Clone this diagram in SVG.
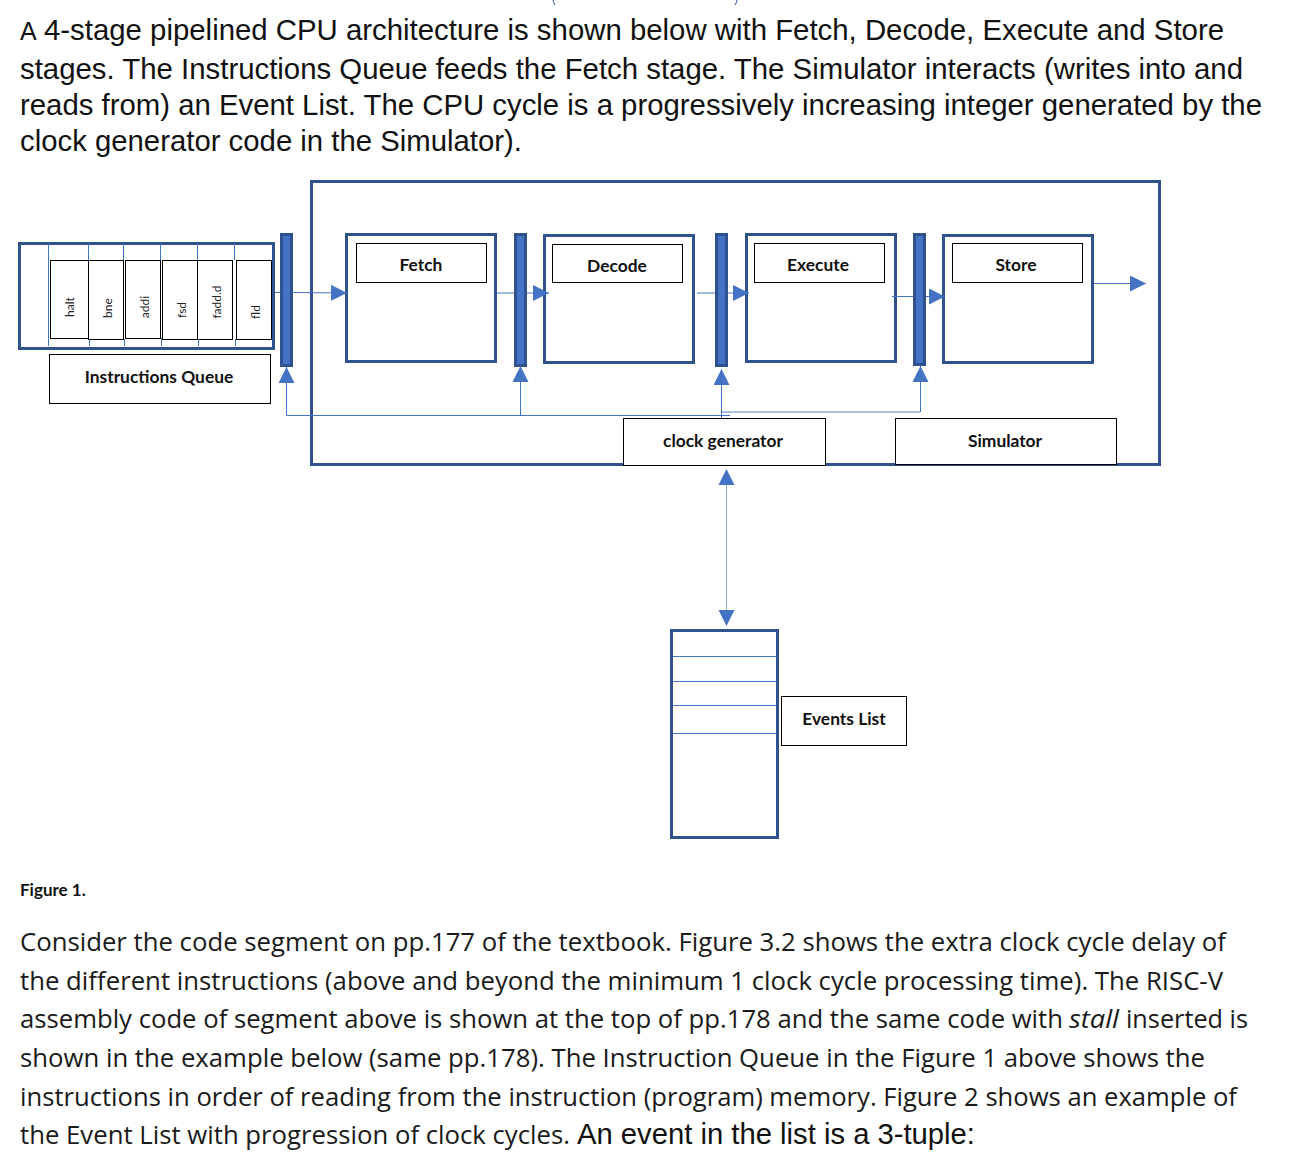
<svg xmlns="http://www.w3.org/2000/svg" width="1304" height="1158" viewBox="0 0 1304 1158">
<style>
.head{font-family:"Liberation Sans",Arial,sans-serif;font-size:29px;fill:#111}
.body{font-family:"Open Sans","Noto Sans",sans-serif;font-size:25.5px;fill:#1a1a1a}
.lab{font-family:Lato,"Noto Sans",sans-serif;font-size:17.4px;font-weight:700;fill:#111;text-anchor:middle}
.cell{font-family:Lato,"Noto Sans",sans-serif;font-size:12px;fill:#222;text-anchor:middle}
.frame{fill:none;stroke:#2f528f;stroke-width:3}
.stage{fill:#fff;stroke:#2f528f;stroke-width:3}
.box{fill:#fff;stroke:#000;stroke-width:1}
.latch{fill:#4472c4;stroke:#2f528f;stroke-width:3}
.wire{fill:none;stroke:#4472c4;stroke-width:1}
.pale{fill:none;stroke:#8faadc;stroke-width:1.5}
.arr{marker-end:url(#ah)}
</style>
<defs>
<marker id="ah" markerUnits="userSpaceOnUse" markerWidth="16" markerHeight="16" refX="16" refY="8" orient="auto-start-reverse" viewBox="0 0 16 16"><path d="M0 0L16 8L0 16Z" fill="#4472c4"/></marker>
</defs>
<path d="M553 0Q553.500 3 555 5M737 0Q736.500 3 735 5" fill="none" stroke="#2f528f" stroke-width="1"/>
<g id="intro">
<text class="head" x="20" y="40" style="font-size:25px">A</text>
<text class="head" x="44" y="40" textLength="1180" lengthAdjust="spacingAndGlyphs">4-stage pipelined CPU architecture is shown below with Fetch, Decode, Execute and Store</text>
<text class="head" x="20" y="79" textLength="1223" lengthAdjust="spacingAndGlyphs">stages. The Instructions Queue feeds the Fetch stage. The Simulator interacts (writes into and</text>
<text class="head" x="20" y="115" textLength="1242" lengthAdjust="spacingAndGlyphs">reads from) an Event List. The CPU cycle is a progressively increasing integer generated by the</text>
<text class="head" x="20" y="151" textLength="502" lengthAdjust="spacingAndGlyphs">clock generator code in the Simulator).</text>
</g>
<rect id="cpu-frame" class="frame" x="311.500" y="181.500" width="848" height="283"/>
<g id="instructions-queue">
<rect class="frame" x="19.500" y="243.500" width="254" height="105"/>
<rect class="box" x="50.500" y="260.500" width="38" height="78"/><text class="cell" transform="translate(74 307) rotate(-90)">halt</text>
<rect class="box" x="88.500" y="260.500" width="35" height="79"/><text class="cell" transform="translate(112 308) rotate(-90)">bne</text>
<rect class="box" x="125.500" y="260.500" width="35" height="78"/><text class="cell" transform="translate(149 307) rotate(-90)">addi</text>
<rect class="box" x="162.500" y="260.500" width="35" height="79"/><text class="cell" transform="translate(186 310) rotate(-90)">fsd</text>
<rect class="box" x="197.500" y="260.500" width="35" height="79"/><text class="cell" transform="translate(221 302) rotate(-90)">fadd.d</text>
<rect class="box" x="236.500" y="260.500" width="35" height="79"/><text class="cell" transform="translate(260 312) rotate(-90)">fld</text>
<path class="wire" d="M48.500 243V346M88.500 243V260M89.500 339V346M123.500 243V260M124.500 339V346M160.500 243V260M161.500 338V346M197.500 243V260M198.500 339V346M234.500 243V260M235.500 339V346"/>
<rect class="box" x="49.500" y="354.500" width="221" height="49"/>
<text class="lab" x="159" y="383">Instructions Queue</text>
</g>
<g id="latches">
<rect class="latch" x="281.500" y="234.500" width="10" height="131"/>
<rect class="latch" x="515.500" y="234.500" width="10" height="131"/>
<rect class="latch" x="716.500" y="234.500" width="10" height="131"/>
<rect class="latch" x="914.500" y="234.500" width="10" height="130"/>
</g>
<g id="fetch"><rect class="stage" x="346.500" y="234.500" width="149" height="127"/><rect class="box" x="356.500" y="243.500" width="130" height="39"/><text class="lab" x="421" y="271">Fetch</text></g>
<g id="decode"><rect class="stage" x="544.500" y="235.500" width="149" height="127"/><rect class="box" x="552.500" y="244.500" width="130" height="38"/><text class="lab" x="617" y="272">Decode</text></g>
<g id="execute"><rect class="stage" x="746.500" y="234.500" width="149" height="127"/><rect class="box" x="754.500" y="243.500" width="130" height="39"/><text class="lab" x="818" y="271">Execute</text></g>
<g id="store"><rect class="stage" x="943.500" y="235.500" width="149" height="127"/><rect class="box" x="952.500" y="243.500" width="130" height="39"/><text class="lab" x="1016" y="271">Store</text></g>
<g id="clock-generator"><rect class="box" x="623.500" y="418.500" width="202" height="47"/><text class="lab" x="723" y="447">clock generator</text></g>
<g id="simulator"><rect class="box" x="895.500" y="418.500" width="221" height="46"/><text class="lab" x="1005" y="447">Simulator</text></g>
<g id="events-list">
<rect class="frame" x="671.500" y="630.500" width="106" height="207"/>
<path class="wire" d="M673 656.500H777M673 681.500H777M673 705.500H777M673 733.500H777"/>
<rect class="box" x="781.500" y="696.500" width="125" height="49"/>
<text class="lab" x="844" y="725">Events List</text>
</g>
<g id="connectors">
<path class="wire" d="M275 292.500H281"/>
<path class="wire arr" d="M292 292.500L347 293"/>
<path class="wire" d="M497 293H514"/>
<path class="wire arr" d="M526 293H549"/>
<path class="wire" d="M697 293H715"/>
<path class="wire arr" d="M727 293H749"/>
<path class="wire" d="M892 296.500H913"/>
<path class="wire arr" d="M926 296.500H945"/>
<path class="wire arr" d="M1094 283.500H1146"/>
<path class="wire arr" d="M286.500 415.500V367"/>
<path class="wire" d="M286.500 415.500H730"/>
<path class="wire arr" d="M520.500 415.500V366"/>
<path class="wire arr" d="M721.500 418V369"/>
<path class="pale" d="M722 412H920"/>
<path class="wire arr" d="M920.500 412V366"/>
<path class="pale" d="M726.500 485V610" style="stroke-width:1"/>
<path d="M726.500 469L734.500 485H718.500Z" fill="#4472c4"/>
<path d="M726.500 626L734.500 610H718.500Z" fill="#4472c4"/>
</g>
<g id="text-below">
<text x="20" y="896" font-family="Lato,'Noto Sans',sans-serif" font-size="17" font-weight="700" fill="#111">Figure 1.</text>
<text class="body" x="20" y="951" textLength="1206" lengthAdjust="spacingAndGlyphs">Consider the code segment on pp.177 of the textbook. Figure 3.2 shows the extra clock cycle delay of</text>
<text class="body" x="20" y="990" textLength="1203" lengthAdjust="spacingAndGlyphs">the different instructions (above and beyond the minimum 1 clock cycle processing time). The RISC-V</text>
<text class="body" x="20" y="1028" textLength="1043" lengthAdjust="spacingAndGlyphs">assembly code of segment above is shown at the top of pp.178 and the same code with</text>
<text class="body" x="1069" y="1028" font-style="italic" textLength="50" lengthAdjust="spacingAndGlyphs">stall</text>
<text class="body" x="1126" y="1028" textLength="122" lengthAdjust="spacingAndGlyphs">inserted is</text>
<text class="body" x="20" y="1067" textLength="1185" lengthAdjust="spacingAndGlyphs">shown in the example below (same pp.178). The Instruction Queue in the Figure 1 above shows the</text>
<text class="body" x="20" y="1106" textLength="1217" lengthAdjust="spacingAndGlyphs">instructions in order of reading from the instruction (program) memory. Figure 2 shows an example of</text>
<text class="body" x="20" y="1144" textLength="550" lengthAdjust="spacingAndGlyphs">the Event List with progression of clock cycles.</text>
<text class="head" x="577" y="1144" textLength="398" lengthAdjust="spacingAndGlyphs">An event in the list is a 3-tuple:</text>
</g>
</svg>
